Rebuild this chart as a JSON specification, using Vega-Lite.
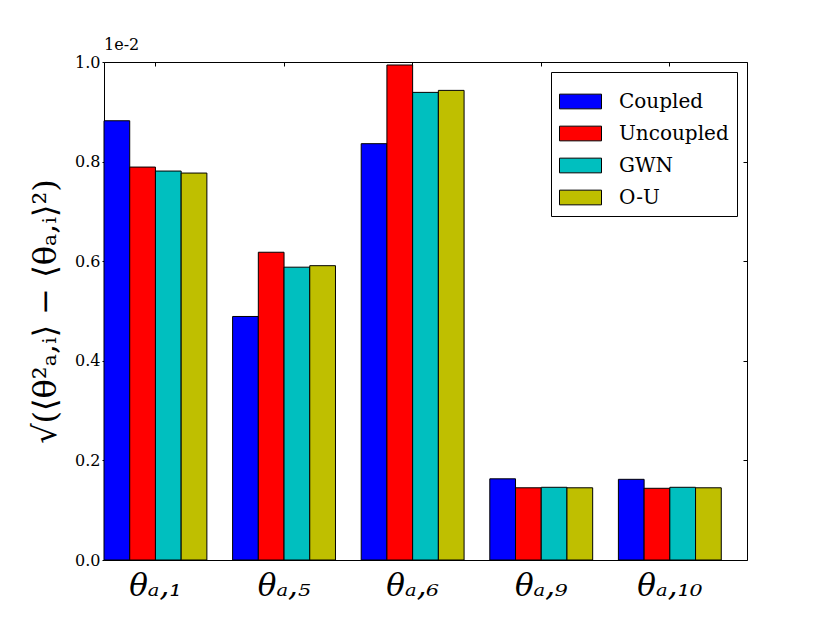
{
  "$schema": "https://vega.github.io/schema/vega-lite/v6.json",
  "autosize": {"type": "none"},
  "width": 643,
  "height": 498,
  "padding": {"left": 104, "top": 62, "right": 83, "bottom": 63},
  "background": "white",
  "title": {
    "text": "1e-2",
    "anchor": "start",
    "frame": "group",
    "font": "DejaVu Serif",
    "fontSize": 16,
    "fontWeight": "normal",
    "color": "black",
    "offset": 1
  },
  "config": {
    "view": {"stroke": "black", "strokeWidth": 1},
    "axis": {
      "domainColor": "black",
      "tickColor": "black",
      "labelFont": "DejaVu Serif",
      "titleFont": "DejaVu Serif",
      "labelColor": "black",
      "titleColor": "black",
      "gridColor": "black",
      "gridOpacity": 1,
      "gridWidth": 1,
      "zindex": 1
    },
    "legend": {
      "orient": "top-right",
      "offset": 10,
      "strokeColor": "black",
      "fillColor": "white",
      "padding": 8,
      "labelFont": "DejaVu Serif",
      "labelFontSize": 20,
      "labelColor": "black",
      "symbolType": "M-1,-0.35L1,-0.35L1,0.35L-1,0.35Z",
      "symbolSize": 1764,
      "symbolStrokeColor": "black",
      "symbolStrokeWidth": 1,
      "symbolOpacity": 1,
      "labelOffset": 17,
      "rowPadding": -11,
      "cornerRadius": 0
    }
  },
  "data": {
    "values": [
      {"param": "a1", "series": "Coupled", "value": 0.00882},
      {"param": "a1", "series": "Uncoupled", "value": 0.00789},
      {"param": "a1", "series": "GWN", "value": 0.00781},
      {"param": "a1", "series": "O-U", "value": 0.00777},
      {"param": "a5", "series": "Coupled", "value": 0.00489},
      {"param": "a5", "series": "Uncoupled", "value": 0.00618},
      {"param": "a5", "series": "GWN", "value": 0.00588},
      {"param": "a5", "series": "O-U", "value": 0.00591},
      {"param": "a6", "series": "Coupled", "value": 0.00836},
      {"param": "a6", "series": "Uncoupled", "value": 0.00994},
      {"param": "a6", "series": "GWN", "value": 0.00939},
      {"param": "a6", "series": "O-U", "value": 0.00943},
      {"param": "a9", "series": "Coupled", "value": 0.00163},
      {"param": "a9", "series": "Uncoupled", "value": 0.00145},
      {"param": "a9", "series": "GWN", "value": 0.00146},
      {"param": "a9", "series": "O-U", "value": 0.00145},
      {"param": "a10", "series": "Coupled", "value": 0.00162},
      {"param": "a10", "series": "Uncoupled", "value": 0.00144},
      {"param": "a10", "series": "GWN", "value": 0.00146},
      {"param": "a10", "series": "O-U", "value": 0.00145}
    ]
  },
  "mark": {"type": "bar", "stroke": "black", "strokeWidth": 1, "opacity": 1},
  "encoding": {
    "x": {
      "field": "param",
      "type": "nominal",
      "sort": ["a1", "a5", "a6", "a9", "a10"],
      "scale": {"paddingInner": 0.2, "paddingOuter": 0.1, "align": 0},
      "axis": {
        "title": null,
        "labelAngle": 0,
        "labelFontSize": 31,
        "labelFontStyle": "italic",
        "labelPadding": 14,
        "tickSize": -3,
        "grid": true,
        "gridDash": [4, 490],
        "domain": false,
        "labelExpr": "datum.value == 'a1' ? 'θₐ,₁' : datum.value == 'a5' ? 'θₐ,₅' : datum.value == 'a6' ? 'θₐ,₆' : datum.value == 'a9' ? 'θₐ,₉' : 'θₐ,₁₀'"
      }
    },
    "xOffset": {
      "field": "series",
      "type": "nominal",
      "sort": ["Coupled", "Uncoupled", "GWN", "O-U"],
      "scale": {"paddingInner": 0, "paddingOuter": 0}
    },
    "y": {
      "field": "value",
      "type": "quantitative",
      "scale": {"domain": [0, 0.01], "nice": false},
      "axis": {
        "title": "√(⟨θ²ₐ,ᵢ⟩ − ⟨θₐ,ᵢ⟩²)",
        "titleFontSize": 32,
        "titleFontWeight": "normal",
        "titlePadding": 12,
        "values": [0, 0.002, 0.004, 0.006, 0.008, 0.01],
        "labelExpr": "format(datum.value * 100, '.1f')",
        "labelFontSize": 16,
        "labelPadding": 2,
        "tickSize": 2,
        "grid": true,
        "gridDash": [4, 635],
        "domain": false
      }
    },
    "color": {
      "field": "series",
      "type": "nominal",
      "sort": ["Coupled", "Uncoupled", "GWN", "O-U"],
      "scale": {
        "domain": ["Coupled", "Uncoupled", "GWN", "O-U"],
        "range": ["#0000ff", "#ff0000", "#00bfbf", "#bfbf00"]
      },
      "legend": {"title": null}
    }
  }
}
